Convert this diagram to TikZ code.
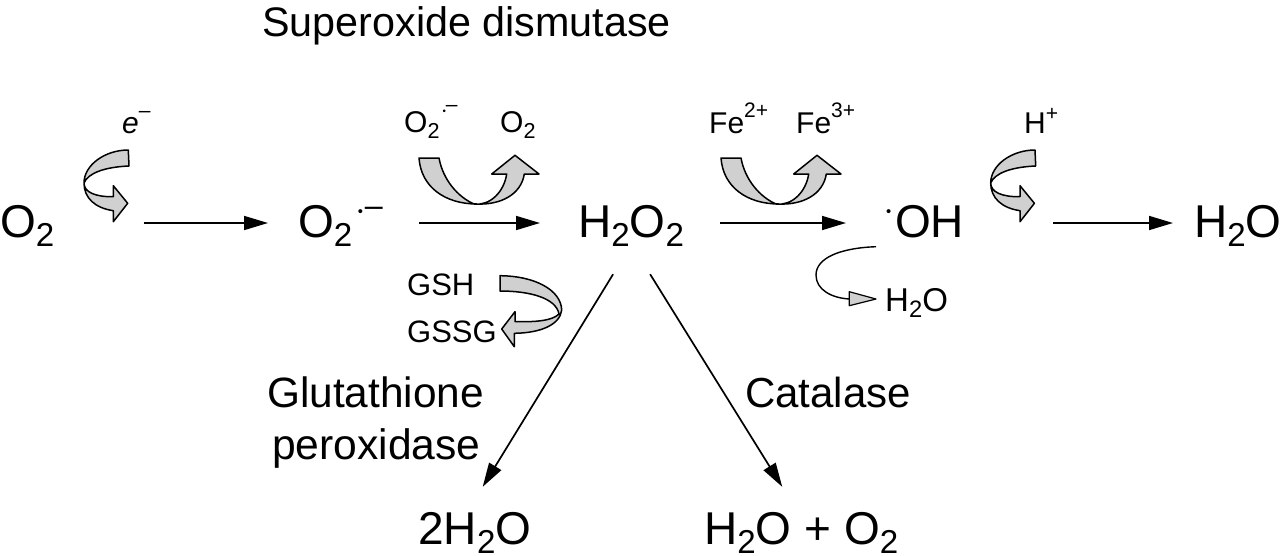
\documentclass[tikz,border=0pt]{standalone}
\usepackage{fontspec}
\usepackage{graphicx}
\setmainfont{Liberation Sans}
\usetikzlibrary{arrows.meta,calc}
\definecolor{bandgray}{RGB}{208,208,208}
\newcommand{\dn}[1]{\raisebox{-.2em}{\scalebox{.72}{#1}}}
\newcommand{\up}[2][.42em]{\raisebox{#1}{\scalebox{.7}{#2}}}
\newcommand{\rdot}[1][.44em]{\raisebox{#1}{\scalebox{.32}{\textbullet}}}
\newcommand{\fs}[1]{\fontsize{#1}{#1}\selectfont}
\tikzset{
  big/.style={inner sep=0pt,anchor=base west,font=\fs{46},text height=28pt,text depth=0pt},
  label/.style={inner sep=0pt,anchor=base west,font=\fs{42}},
  small/.style={inner sep=0pt,anchor=base west,font=\fs{30}},
  band/.style={draw=black,fill=bandgray,line width=1.5pt,line join=round},
  rxn/.style={line width=1.7pt,-{Triangle[length=24pt,width=14pt]}},
  thin curve/.style={line width=1.4pt},
  pics/curlarrow/.style={code={
    \draw[band] (128.3,150) .. controls (105,150) and (84,165) .. (84,183)
      .. controls (84,198) and (95,208) .. (113.3,210.7) -- (113.3,221.7) -- (127.7,203.3)
      -- (113.3,185.7) -- (113.3,196.7) .. controls (95,197) and (84,192) .. (84,183)
      .. controls (88,173) and (105,167) .. (129,166) -- cycle;
  }},
  pics/uarrow/.style={code={
    \draw[band] (419,158) -- (439,158) .. controls (443,180) and (458,197) .. (474,204)
      .. controls (490,206) and (504,192) .. (506.7,174) -- (491.7,174) -- (515,155.3)
      -- (539,174) -- (524.3,174) .. controls (521,195) and (500,205) .. (477,204)
      .. controls (445,204) and (421,187) .. (419,158) -- cycle;
  }}
}
\begin{document}
\begin{tikzpicture}[x=1pt,y=-1pt]
\useasboundingbox (0,0) rectangle (1280,555);
% main row
\node[big] (o2) at (0,237) {O\dn{2}};
\node[big] (sup) at (298,237) {O\dn{2}\hspace{.12em}\rdot\hspace{.04em}\up[.45em]{--}};
\node[big] (h2o2) at (578,237) {H\dn{2}O\dn{2}};
\node[big] (oh) at (886,237) {\rdot\hspace{.08em}OH};
\node[big] (h2o) at (1194,237) {H\dn{2}O};
\draw[rxn,shorten <=89pt,shorten >=30pt] (o2.east) -- (sup.west);
\draw[rxn,shorten <=36pt,shorten >=38pt] (sup.east) -- (h2o2.west);
\draw[rxn,shorten <=36pt,shorten >=40pt] (h2o2.east) -- (oh.west);
\draw[rxn,shorten <=89pt,shorten >=21pt] (oh.east) -- (h2o.west);
% titles
\node[label,font=\fs{41.3}] (sod) at (262,36) {Superoxide dismutase};
\node[label,font=\fs{42.4}] (gpx1) at (267,407) {Glutathione};
\node[label,font=\fs{42.6}] (gpx2) at (272,459) {peroxidase};
\node[label] (cat) at (745,407) {Catalase};
\node[big] (water) at (418,544) {2H\dn{2}O};
\node[big] (wo) at (704,544) {H\dn{2}O + O\dn{2}};
\draw[rxn] ($(h2o2.south)+(-18,37)$) -- ($(water.north)+(8,-29)$);
\draw[rxn] ($(h2o2.south)+(19,37)$) -- ($(wo.north)+(-19,-29)$);
% cofactors
\node[small,font=\it\fs{30}] (em) at (122,133) {e\up[.53em]{--}};
\node[small] (o2a) at (404,132) {O\dn{2}\hspace{.1em}\rdot[.58em]\up[.67em]{--}};
\node[small] (o2b) at (500,132) {O\dn{2}};
\node[small] (fe2) at (709,133) {Fe\up[.53em]{2+}};
\node[small] (fe3) at (796,133) {Fe\up[.53em]{3+}};
\node[small] (hp) at (1024,133) {H\up{+}};
\node[small,font=\fs{31}] (gsh) at (407,295) {GSH};
\node[small,font=\fs{31}] (gssg) at (407,342) {GSSG};
\node[small,font=\fs{33}] (sw) at (885,311) {H\dn{2}O};
% curved block arrows
\pic {curlarrow};
\pic[shift={(906.7,0)}] {curlarrow};
\pic {uarrow};
\pic[shift={(302,0)}] {uarrow};
\draw[band] (500,275.7) .. controls (535,276) and (561,290) .. (561.7,310)
  .. controls (560,325) and (540,333) .. (514.3,333.3) -- (514.3,346.7) -- (501.7,329)
  -- (515,311.7) -- (515,321.7) .. controls (535,322) and (552,321) .. (559,314)
  .. controls (556,298) and (530,291) .. (500,291) -- cycle;
% thin curved arrow
\coordinate (thinstart) at (876,246.7);
\draw[thin curve] (thinstart) .. controls (840,248) and (816,258) .. (816,275)
  .. controls (816,290) and (832,298) .. (849.3,299);
\draw[band,line width=1.2pt] (849.3,291.7) -- (876,299) -- (849.3,305.7) -- cycle;
\end{tikzpicture}
\end{document}
